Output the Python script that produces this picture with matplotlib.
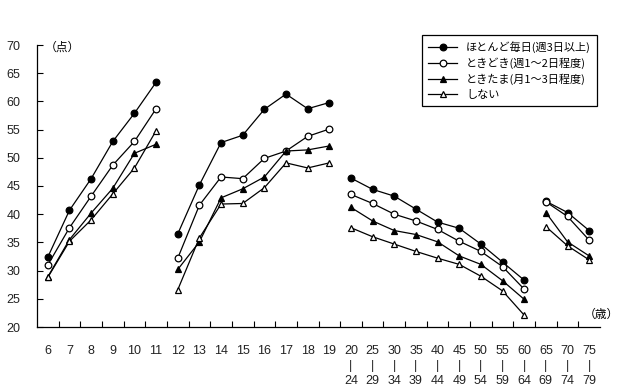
import matplotlib
matplotlib.use("Agg")
from matplotlib import pyplot as plt

plt.rcParams['font.family'] = ['Liberation Sans', 'Noto Sans CJK JP', 'DejaVu Sans']

ages = ["6", "7", "8", "9", "10", "11",
        "12", "13", "14", "15", "16", "17", "18", "19",
        "20\n|\n24", "25\n|\n29", "30\n|\n34", "35\n|\n39", "40\n|\n44",
        "45\n|\n49", "50\n|\n54", "55\n|\n59", "60\n|\n64",
        "65\n|\n69", "70\n|\n74", "75\n|\n79"]

# 区切り(小学生 / 中高生 / 成人 / 高齢者)
groups = [(0, 6), (6, 14), (14, 23), (23, 26)]

series_names = ["ほとんど毎日(週3日以上)", "ときどき(週1～2日程度)",
                "ときたま(月1～3日程度)", "しない"]

everyday = [32.4, 40.7, 46.3, 52.9, 57.9, 63.4,
            36.5, 45.2, 52.7, 54.0, 58.6, 61.3, 58.7, 59.8,
            46.4, 44.4, 43.2, 40.9, 38.6, 37.5, 34.7, 31.5, 28.3,
            42.3, 40.3, 37.1]
sometimes = [31.0, 37.6, 43.2, 48.7, 52.9, 58.7,
             32.2, 41.6, 46.6, 46.3, 49.9, 51.2, 53.8, 55.1,
             43.5, 41.9, 40.0, 38.8, 37.3, 35.2, 33.4, 30.7, 26.7,
             42.2, 39.6, 35.4]
occasionally = [28.9, 35.5, 40.2, 44.6, 50.8, 52.4,
                30.2, 35.1, 42.9, 44.5, 46.6, 51.2, 51.4, 52.1,
                41.2, 38.8, 37.1, 36.4, 35.1, 32.6, 31.1, 28.2, 24.9,
                40.3, 35.1, 32.6]
never = [28.8, 35.2, 39.0, 43.6, 48.2, 54.8,
         26.6, 35.8, 41.8, 41.9, 44.7, 49.1, 48.2, 49.1,
         37.6, 36.0, 34.7, 33.4, 32.2, 31.1, 29.0, 26.4, 22.1,
         37.8, 34.4, 31.9]

all_series = [everyday, sometimes, occasionally, never]
markers = ["o", "o", "^", "^"]
faces = ["black", "white", "black", "white"]

fig = plt.figure(figsize=[6.4, 3.92], dpi=100)
ax = fig.add_axes([37 / 640, 1 - 327 / 392, 563 / 640, 282 / 392])

x = list(range(len(ages)))
for s in range(len(all_series)):
    for g, (a, b) in enumerate(groups):
        ax.plot(x[a:b], all_series[s][a:b], color="black", linewidth=0.9,
                marker=markers[s], markersize=4.8, markerfacecolor=faces[s],
                markeredgecolor="black", markeredgewidth=0.9,
                label=series_names[s] if g == 0 else None)

ax.set_xlim(-0.5, len(ages) - 0.5)
ax.set_ylim(20, 70)
ax.set_yticks(range(20, 71, 5))
ax.set_xticks(x)
ax.set_xticklabels(ages, fontsize=9, linespacing=1.35, color="#222222")
ax.set_xticks([i + 0.5 for i in range(len(ages) - 1)], minor=True)
ax.tick_params(axis="x", which="major", length=0, pad=13)
ax.tick_params(axis="x", which="minor", direction="in", length=4, width=0.8)
ax.tick_params(axis="y", direction="in", length=4, width=0.8, labelsize=9,
               labelcolor="#222222", pad=12)
ax.spines["top"].set_visible(False)
ax.spines["right"].set_visible(False)
ax.spines["left"].set_linewidth(0.9)
ax.spines["bottom"].set_linewidth(0.9)

ax.text(-0.15, 69.6, "（点）", fontsize=8.5, family=['Noto Sans CJK JP'], va="center")
ax.text(24.75, 22.3, "（歳）", fontsize=8.5, family=['Noto Sans CJK JP'], va="center", ha="left",
        clip_on=False)

leg = ax.legend(loc="upper right", bbox_to_anchor=(597 / 640, 1 - 35 / 392),
                bbox_transform=fig.transFigure, borderaxespad=0,
                fancybox=False, edgecolor="black",
                prop={'family': ['Noto Sans CJK JP'], 'size': 8},
                handlelength=2.6, borderpad=0.55, labelspacing=0.42, framealpha=1)
leg.get_frame().set_linewidth(0.9)

fig.savefig("out.png", dpi=100)
